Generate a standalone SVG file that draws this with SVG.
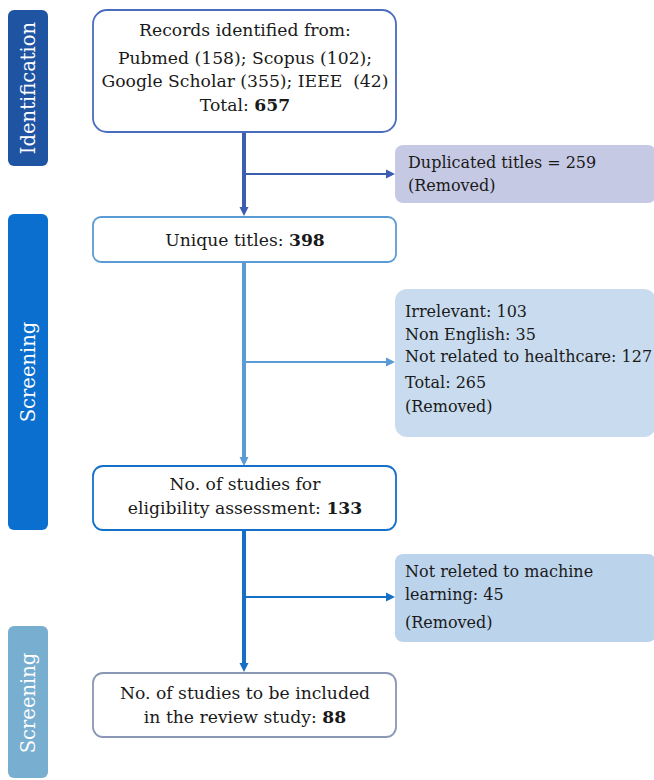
<svg xmlns="http://www.w3.org/2000/svg" width="654" height="780" viewBox="0 0 654 780">
<style>
text{font-family:"DejaVu Serif","Liberation Serif",serif;font-size:17.2px;fill:#1a1a1a;white-space:pre}
.c{text-anchor:middle}
.r{font-size:16px}
.b{font-weight:bold}
.lab{font-size:19.5px;fill:#ffffff;text-anchor:middle}
.box{fill:#ffffff;stroke-width:1.8}
.v{fill:none;stroke-width:4}
.h{fill:none;stroke-width:2}
</style>
<defs>
<marker id="a1" markerUnits="userSpaceOnUse" markerWidth="9" markerHeight="10" refX="0" refY="5" orient="auto"><path d="M0,0.5 L9,5 L0,9.5 z" fill="#3D5DB0"/></marker>
<marker id="a2" markerUnits="userSpaceOnUse" markerWidth="9" markerHeight="10" refX="0" refY="5" orient="auto"><path d="M0,0.5 L9,5 L0,9.5 z" fill="#5B9BD5"/></marker>
<marker id="a3" markerUnits="userSpaceOnUse" markerWidth="9" markerHeight="10" refX="0" refY="5" orient="auto"><path d="M0,0.5 L9,5 L0,9.5 z" fill="#1570C5"/></marker>
</defs>
<g id="stage-identification"><rect x="8" y="10" width="40" height="156" rx="6" fill="#1F54A3"/><text class="lab" transform="translate(34.5,88) rotate(-90)">Identification</text></g>
<g id="stage-screening-1"><rect x="8" y="214" width="40" height="316" rx="6" fill="#0A6FCF"/><text class="lab" transform="translate(34.5,372) rotate(-90)">Screening</text></g>
<g id="stage-screening-2"><rect x="8" y="626" width="40" height="152" rx="6" fill="#78AED0"/><text class="lab" transform="translate(34.5,703) rotate(-90)">Screening</text></g>
<g id="connectors">
<path class="v" d="M244,132 V207" stroke="#3D5DB0" marker-end="url(#a1)"/>
<path class="h" d="M244,174 H386" stroke="#3D5DB0" marker-end="url(#a1)"/>
<path class="v" d="M244,262 V457" stroke="#5B9BD5" marker-end="url(#a2)"/>
<path class="h" d="M244,362 H386" stroke="#5B9BD5" marker-end="url(#a2)"/>
<path class="v" d="M244,530 V663" stroke="#1570C5" marker-end="url(#a3)"/>
<path class="h" d="M244,597 H386" stroke="#1570C5" marker-end="url(#a3)"/>
</g>
<g id="records"><rect class="box" x="93" y="10" width="303" height="122" rx="14" stroke="#4A6CBF"/>
<text class="c" x="245" y="36">Records identified from:</text>
<text class="c" x="245" y="64">Pubmed (158); Scopus (102);</text>
<text class="c" x="245" y="87">Google Scholar (355); IEEE  (42)</text>
<text class="c" x="245" y="111">Total: <tspan class="b">657</tspan></text></g>
<g id="duplicated"><rect x="395" y="145" width="261" height="58" rx="8" fill="#C6C9E4"/>
<text class="r" x="408" y="168">Duplicated titles = 259</text>
<text class="r" x="408" y="191">(Removed)</text></g>
<g id="unique"><rect class="box" x="93" y="217" width="303" height="45" rx="8" stroke="#5B9BD5"/>
<text class="c" x="245" y="246">Unique titles: <tspan class="b">398</tspan></text></g>
<g id="excluded-screening"><rect x="395" y="289" width="261" height="148" rx="12" fill="#C9DCEF"/>
<text class="r" x="405" y="317">Irrelevant: 103</text>
<text class="r" x="405" y="340">Non English: 35</text>
<text class="r" x="405" y="362">Not related to healthcare: 127</text>
<text class="r" x="405" y="388">Total: 265</text>
<text class="r" x="405" y="412">(Removed)</text></g>
<g id="eligibility"><rect class="box" x="93" y="466" width="303" height="64" rx="10" stroke="#1470C8"/>
<text class="c" x="245" y="490">No. of studies for</text>
<text class="c" x="245" y="514">eligibility assessment: <tspan class="b">133</tspan></text></g>
<g id="excluded-ml"><rect x="395" y="554" width="261" height="88" rx="8" fill="#BCD3EC"/>
<text class="r" x="405" y="577">Not releted to machine</text>
<text class="r" x="405" y="600">learning: 45</text>
<text class="r" x="405" y="628">(Removed)</text></g>
<g id="included"><rect class="box" x="93" y="673" width="303" height="64" rx="10" stroke="#8A97B5"/>
<text class="c" x="245" y="699">No. of studies to be included</text>
<text class="c" x="245" y="723">in the review study: <tspan class="b">88</tspan></text></g>
</svg>
